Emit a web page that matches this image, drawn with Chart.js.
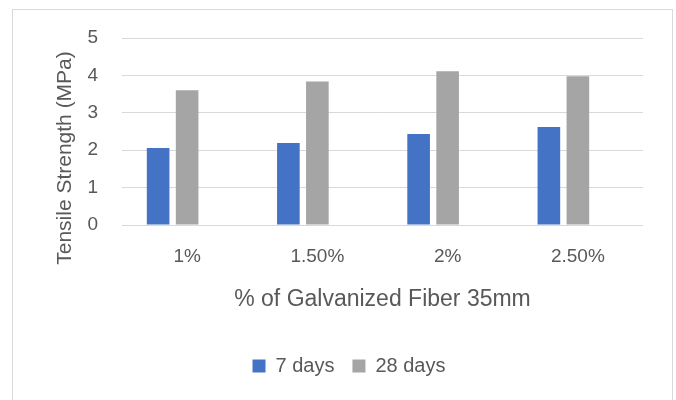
<!DOCTYPE html>
<html>
<head>
<meta charset="utf-8">
<script src="https://cdn.jsdelivr.net/npm/chart.js@4/dist/chart.umd.min.js"></script>
<style>
  body { margin: 0; background: #fff; overflow: hidden; }
  .frame { position: absolute; left: 12px; top: 9px; width: 661px; height: 420px; box-sizing: border-box; border: 1px solid #d9d9d9; }
  #chart { position: absolute; left: 0; top: 0; }
</style>
</head>
<body>
<div class="frame"></div>
<canvas id="chart" width="676" height="400"></canvas>
<script>
// values
const categories = ["1%", "1.50%", "2%", "2.50%"];
const days7 = [2.06, 2.19, 2.43, 2.62];
const days28 = [3.6, 3.84, 4.11, 3.98];
const emptySeries = [null, null, null, null]; // blank third series keeps the bars left of centre
const yTicks = [0, 1, 2, 3, 4, 5];
const yTitle = "Tensile Strength (MPa)";
const xTitle = "% of Galvanized Fiber 35mm";

const textColor = "#595959";
Chart.defaults.font.family = "'Liberation Sans', Arial, sans-serif";
Chart.defaults.color = textColor;

// y title is centred on the whole axis block, not only the plot
const yTitlePlugin = {
  id: "yTitle",
  afterDraw: (chart) => {
    const ctx = chart.ctx;
    ctx.save();
    ctx.translate(65, 158);
    ctx.rotate(-Math.PI / 2);
    ctx.font = "21px 'Liberation Sans', Arial, sans-serif";
    ctx.fillStyle = textColor;
    ctx.textAlign = "center";
    ctx.textBaseline = "middle";
    ctx.fillText(yTitle, 0, 0);
    ctx.restore();
  },
};

new Chart(document.querySelector("#chart"), {
  type: "bar",
  data: {
    labels: categories,
    datasets: [
      { label: "7 days", data: days7, backgroundColor: "#4472C4" },
      { label: "28 days", data: days28, backgroundColor: "#A5A5A5" },
      { label: "", data: emptySeries, backgroundColor: "#FFC000" },
    ],
  },
  options: {
    responsive: false,
    devicePixelRatio: 1,
    animation: false,
    categoryPercentage: 0.668,
    barPercentage: 0.78,
    layout: { padding: { left: 55, right: 33, top: 38, bottom: 14 } },
    plugins: {
      tooltip: { enabled: false },
      legend: {
        position: "bottom",
        labels: {
          filter: (item) => item.text !== "",
          boxWidth: 13,
          boxHeight: 13,
          padding: 18,
          font: { size: 20 },
          color: textColor,
        },
      },
    },
    scales: {
      x: {
        grid: { display: false },
        border: { display: false },
        ticks: { font: { size: 19 }, padding: 12, color: textColor },
        title: { display: true, text: xTitle, font: { size: 23 }, padding: { top: 0, bottom: 25 }, color: textColor },
        afterFit: (scale) => { scale.height = 113; },
      },
      y: {
        min: 0,
        max: 5,
        afterBuildTicks: (scale) => { scale.ticks = yTicks.map((v) => ({ value: v })); },
        grid: { color: "#d9d9d9", lineWidth: 1, drawTicks: false },
        border: { display: false },
        ticks: { font: { size: 19 }, padding: 24, color: textColor },
        afterFit: (scale) => { scale.width = 67; },
      },
    },
  },
  plugins: [yTitlePlugin],
});
</script>
</body>
</html>
